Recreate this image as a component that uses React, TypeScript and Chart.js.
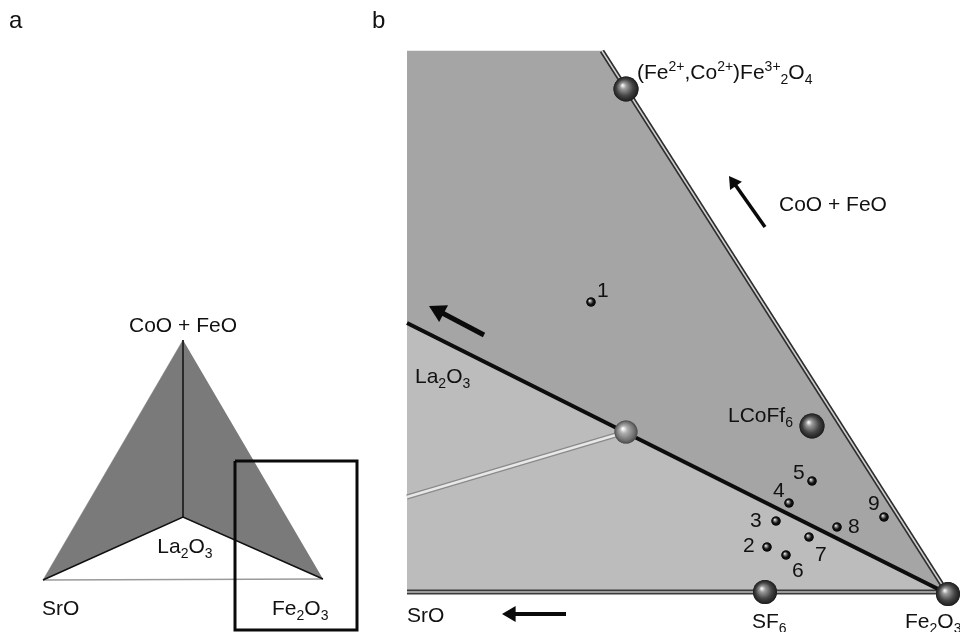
import React, { useEffect, useRef } from "react";
import { Chart, registerables } from "chart.js";

Chart.register(...registerables);

type P = { x: number; y: number };

// ---------- Panel a (ternary overview) ----------
const aApexCoOFeO: P = { x: 183, y: 340 };
const aSrO: P = { x: 43, y: 580 };
const aFe2O3: P = { x: 323, y: 579 };
const aLa2O3: P = { x: 183, y: 517 };
const aFaceLeft: P[] = [aApexCoOFeO, aSrO, aLa2O3];
const aFaceRight: P[] = [aApexCoOFeO, aLa2O3, aFe2O3];
const aRidge: P[] = [aApexCoOFeO, aLa2O3];
const aInnerEdges: P[] = [aSrO, aLa2O3, aFe2O3];
const aBase: P[] = [aSrO, aFe2O3];
const aZoomBox: P[] = [
  { x: 235, y: 461 },
  { x: 357, y: 461 },
  { x: 357, y: 630 },
  { x: 235, y: 630 },
  { x: 235, y: 461 },
];

// ---------- Panel b (enlarged Fe2O3 corner) ----------
const bFe2O3: P = { x: 948, y: 594 };
const bUpperRegion: P[] = [
  { x: 407, y: 51 },
  { x: 602, y: 51 },
  bFe2O3,
  { x: 407, y: 323 },
];
const bLowerRegion: P[] = [
  { x: 407, y: 323 },
  bFe2O3,
  { x: 948, y: 592 },
  { x: 407, y: 592 },
];
const bBoundary: P[] = [{ x: 407, y: 323 }, bFe2O3];
const bTieLine: P[] = [{ x: 407, y: 497 }, { x: 626, y: 432 }];
const bEdgeDiagonal: P[] = [{ x: 602, y: 51 }, bFe2O3];
const bEdgeBase: P[] = [{ x: 407, y: 592 }, { x: 948, y: 592 }];

// phases: (Fe,Co)Fe2O4, LCoFf6, SF6, Fe2O3
const phaseX = [626, 812, 765, 948];
const phaseY = [89, 426, 592, 594];
const phaseR = [12.5, 12.5, 12, 12];
const junctionPoint: P[] = [{ x: 626, y: 432 }];

// samples 1..9
const sampleIds = ["1", "2", "3", "4", "5", "6", "7", "8", "9"];
const sampleX = [591, 767, 776, 789, 812, 786, 809, 837, 884];
const sampleY = [302, 547, 521, 503, 481, 555, 537, 527, 517];
const sampleLabelX = [597, 743, 750, 773, 793, 792, 815, 848, 868];
const sampleLabelY = [297, 552, 527, 497, 479, 577, 561, 533, 510];

// text labels
const labelTexts = [
  "a",
  "b",
  "CoO + FeO",
  "La{_2}O{_3}",
  "SrO",
  "Fe{_2}O{_3}",
  "(Fe{^2+},Co{^2+})Fe{^3+}{_2}O{_4}",
  "CoO + FeO",
  "La{_2}O{_3}",
  "LCoFf{_6}",
  "SrO",
  "SF{_6}",
  "Fe{_2}O{_3}",
];
const labelX = [9, 372, 183, 185, 42, 272, 637, 779, 415, 728, 407, 752, 905];
const labelY = [28, 28, 332, 553, 615, 615, 79, 211, 383, 422, 622, 628, 628];
const labelCentered = [false, false, true, true, false, false, false, false, false, false, false, false, false];
const labelBig = [true, true, false, false, false, false, false, false, false, false, false, false, false];

// arrows (tail -> tip)
const arrowTailX = [484, 765, 566];
const arrowTailY = [335, 227, 614];
const arrowTipX = [429, 729, 502];
const arrowTipY = [306, 176, 614];
const arrowWidth = [5, 3.5, 4];

type Part = { t: string; m: "n" | "sub" | "sup" };
const parseRich = (s: string): Part[] => {
  const parts: Part[] = [];
  const re = /\{([_^])([^}]*)\}/g;
  let last = 0;
  let m: RegExpExecArray | null;
  while ((m = re.exec(s))) {
    if (m.index > last) parts.push({ t: s.slice(last, m.index), m: "n" });
    parts.push({ t: m[2], m: m[1] === "_" ? "sub" : "sup" });
    last = re.lastIndex;
  }
  if (last < s.length) parts.push({ t: s.slice(last), m: "n" });
  return parts;
};

const FONT = '"Liberation Sans", Arial, Helvetica, sans-serif';

const drawRich = (
  ctx: CanvasRenderingContext2D,
  text: string,
  x: number,
  y: number,
  size: number,
  centered: boolean
) => {
  const parts = parseRich(text);
  const small = Math.round(size * 0.66);
  const fontFor = (p: Part) => `${p.m === "n" ? size : small}px ${FONT}`;
  let total = 0;
  for (const p of parts) {
    ctx.font = fontFor(p);
    total += ctx.measureText(p.t).width;
  }
  let cx = centered ? x - total / 2 : x;
  ctx.fillStyle = "#111";
  ctx.textBaseline = "alphabetic";
  ctx.textAlign = "left";
  for (const p of parts) {
    ctx.font = fontFor(p);
    const dy = p.m === "sub" ? size * 0.24 : p.m === "sup" ? -size * 0.4 : 0;
    ctx.fillText(p.t, cx, y + dy);
    cx += ctx.measureText(p.t).width;
  }
};

const diagramPlugin = {
  id: "diagram",
  afterDatasetDraw(chart: any, args: any) {
    const ds = chart.data.datasets[args.index];
    if (!ds.shade) return;
    const ctx: CanvasRenderingContext2D = chart.ctx;
    for (const el of args.meta.data) {
      const { x, y } = el;
      const r = el.options.radius;
      const g = ctx.createRadialGradient(x - r * 0.28, y - r * 0.3, r * 0.04, x, y, r);
      for (const [o, c] of ds.shade) g.addColorStop(o, c);
      ctx.save();
      ctx.beginPath();
      ctx.arc(x, y, r, 0, Math.PI * 2);
      ctx.fillStyle = g;
      ctx.fill();
      ctx.restore();
    }
  },
  afterDatasetsDraw(chart: any) {
    const ctx: CanvasRenderingContext2D = chart.ctx;
    const xs = chart.scales.x;
    const ys = chart.scales.y;
    // arrows
    for (let i = 0; i < arrowTailX.length; i++) {
      const x0 = xs.getPixelForValue(arrowTailX[i]);
      const y0 = ys.getPixelForValue(arrowTailY[i]);
      const x1 = xs.getPixelForValue(arrowTipX[i]);
      const y1 = ys.getPixelForValue(arrowTipY[i]);
      const w = arrowWidth[i];
      const ang = Math.atan2(y1 - y0, x1 - x0);
      const headL = w * 2.9 + 2;
      const headW = w * 1.5 + 2;
      const bx = x1 - Math.cos(ang) * headL;
      const by = y1 - Math.sin(ang) * headL;
      ctx.save();
      ctx.strokeStyle = "#0a0a0a";
      ctx.fillStyle = "#0a0a0a";
      ctx.lineWidth = w;
      ctx.lineCap = "butt";
      ctx.beginPath();
      ctx.moveTo(x0, y0);
      ctx.lineTo(bx + Math.cos(ang) * 2, by + Math.sin(ang) * 2);
      ctx.stroke();
      ctx.beginPath();
      ctx.moveTo(x1, y1);
      ctx.lineTo(bx + Math.sin(ang) * headW, by - Math.cos(ang) * headW);
      ctx.lineTo(bx - Math.sin(ang) * headW, by + Math.cos(ang) * headW);
      ctx.closePath();
      ctx.fill();
      ctx.restore();
    }
    // labels
    ctx.save();
    for (let i = 0; i < labelTexts.length; i++) {
      drawRich(
        ctx,
        labelTexts[i],
        xs.getPixelForValue(labelX[i]),
        ys.getPixelForValue(labelY[i]),
        labelBig[i] ? 24 : 21,
        labelCentered[i]
      );
    }
    for (let i = 0; i < sampleIds.length; i++) {
      drawRich(
        ctx,
        sampleIds[i],
        xs.getPixelForValue(sampleLabelX[i]),
        ys.getPixelForValue(sampleLabelY[i]),
        21,
        false
      );
    }
    ctx.restore();
  },
};

const poly = (data: P[], color: string, order: number) => ({
  data,
  showLine: true,
  fill: "shape",
  backgroundColor: color,
  borderColor: color,
  borderWidth: 0.5,
  pointRadius: 0,
  order,
});

const line = (data: P[], color: string, width: number, order: number) => ({
  data,
  showLine: true,
  fill: false,
  borderColor: color,
  borderWidth: width,
  pointRadius: 0,
  order,
  borderCapStyle: "butt",
  borderJoinStyle: "miter",
});

export default function App() {
  const ref = useRef<HTMLCanvasElement | null>(null);
  useEffect(() => {
    document.body.style.margin = "0";
    document.body.style.background = "#ffffff";
    if (!ref.current) return;
    const phases = phaseX.map((x, i) => ({ x, y: phaseY[i] }));
    const samples = sampleX.map((x, i) => ({ x, y: sampleY[i] }));
    const chart = new Chart(ref.current, {
      type: "scatter",
      data: {
        datasets: [
          poly(aFaceLeft, "#7a7a7a", 30),
          poly(aFaceRight, "#7a7a7a", 30),
          line(aBase, "#9a9a9a", 1.5, 25),
          line(aRidge, "#111111", 1.5, 24),
          line(aInnerEdges, "#111111", 1.5, 24),
          line(aZoomBox, "#0a0a0a", 3, 5),
          poly(bUpperRegion, "#a5a5a5", 30),
          poly(bLowerRegion, "#bcbcbc", 30),
          line(bEdgeDiagonal, "#2e2e2e", 5, 14),
          line(bEdgeDiagonal, "#cfcfcf", 1.5, 13),
          line(bEdgeBase, "#3a3a3a", 5, 14),
          line(bEdgeBase, "#bdbdbd", 1.5, 13),
          line(bTieLine, "#8a8a8a", 5, 12),
          line(bTieLine, "#e8e8e8", 2.5, 11),
          line(bBoundary, "#0d0d0d", 4, 10),
          {
            data: junctionPoint,
            pointRadius: 11.5,
            pointBackgroundColor: "#777",
            pointBorderWidth: 0,
            order: 3,
            shade: [
              [0, "#ffffff"],
              [0.3, "#b0b0b0"],
              [0.8, "#6e6e6e"],
              [1, "#4a4a4a"],
            ],
          },
          {
            data: phases,
            pointRadius: phaseR,
            pointBackgroundColor: "#333",
            pointBorderWidth: 0,
            order: 2,
            shade: [
              [0, "#f4f4f4"],
              [0.22, "#9a9a9a"],
              [0.65, "#444444"],
              [1, "#1c1c1c"],
            ],
          },
          {
            data: samples,
            pointRadius: 4.6,
            pointBackgroundColor: "#111",
            pointBorderWidth: 0,
            order: 1,
            shade: [
              [0, "#e8e8e8"],
              [0.3, "#777777"],
              [0.6, "#151515"],
              [1, "#050505"],
            ],
          },
        ] as any,
      },
      options: {
        animation: false,
        responsive: false,
        maintainAspectRatio: false,
        events: [],
        layout: { padding: 0, autoPadding: false },
        plugins: {
          legend: { display: false },
          tooltip: { enabled: false },
        },
        scales: {
          x: { type: "linear", min: 0, max: 960, display: false },
          y: { type: "linear", min: 0, max: 632, reverse: true, display: false },
        },
      } as any,
      plugins: [diagramPlugin as any],
    });
    return () => chart.destroy();
  }, []);
  return (
    <div style={{ width: 960, height: 632 }}>
      <canvas ref={ref} width={960} height={632} style={{ display: "block" }} />
    </div>
  );
}
